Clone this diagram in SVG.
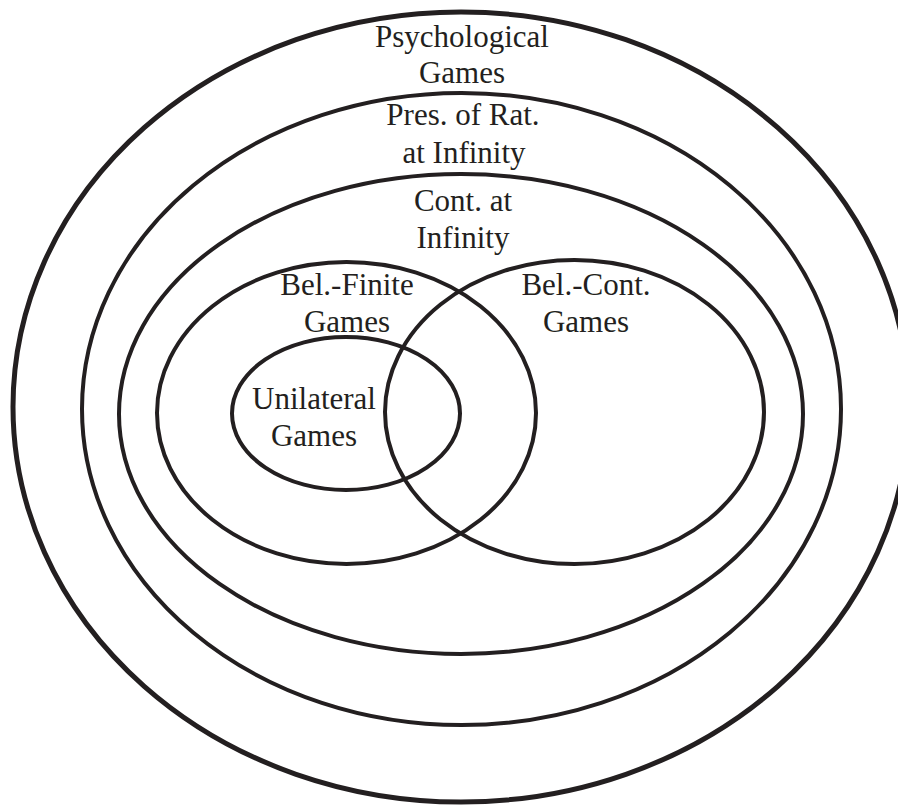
<svg xmlns="http://www.w3.org/2000/svg" width="898" height="806" viewBox="0 0 898 806">
<style>
.set{fill:none;stroke:#231f20;stroke-width:4}
.outer{stroke-width:5}
.lbl{font-family:"Liberation Serif","Times New Roman",serif;font-size:31px;fill:#231f20;text-anchor:middle}
</style>
<rect width="898" height="806" fill="#ffffff"/>
<g id="psychological-games">
<ellipse class="set outer" cx="461" cy="407" rx="448" ry="395"/>
<text class="lbl" x="462" y="47">Psychological</text>
<text class="lbl" x="462" y="83">Games</text>
</g>
<g id="pres-of-rat">
<ellipse class="set" cx="461.5" cy="409" rx="379.5" ry="316"/>
<text class="lbl" x="463" y="125">Pres. of Rat.</text>
<text class="lbl" x="464" y="163">at Infinity</text>
</g>
<g id="cont-at-infinity">
<ellipse class="set" cx="461" cy="414" rx="342" ry="240"/>
<text class="lbl" x="463" y="211">Cont. at</text>
<text class="lbl" x="463" y="248">Infinity</text>
</g>
<g id="bel-finite">
<ellipse class="set" cx="346.5" cy="413" rx="189.5" ry="151"/>
<text class="lbl" x="347" y="295">Bel.-Finite</text>
<text class="lbl" x="347" y="332">Games</text>
</g>
<g id="bel-cont">
<ellipse class="set" cx="574.5" cy="412" rx="189.5" ry="152"/>
<text class="lbl" x="586" y="295">Bel.-Cont.</text>
<text class="lbl" x="586" y="332">Games</text>
</g>
<g id="unilateral">
<ellipse class="set" cx="346" cy="413.5" rx="114" ry="76.5"/>
<text class="lbl" x="314" y="409">Unilateral</text>
<text class="lbl" x="314" y="446">Games</text>
</g>
</svg>
